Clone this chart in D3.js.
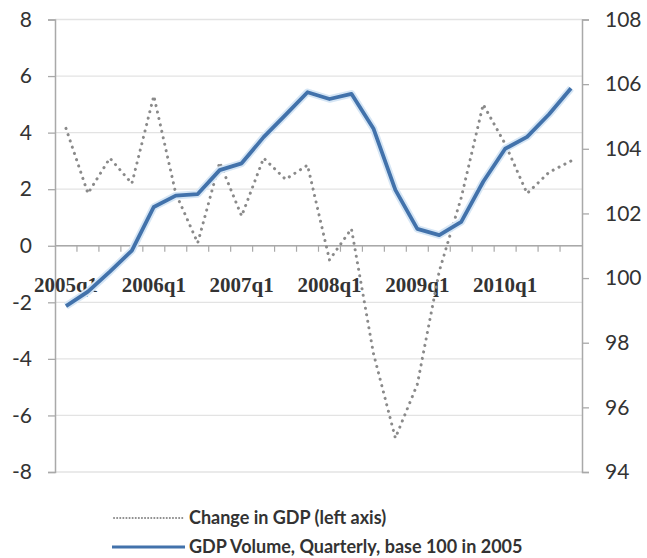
<!DOCTYPE html>
<html>
<head>
<meta charset="utf-8">
<script src="https://cdn.jsdelivr.net/npm/d3@7"></script>
<style>
  html, body { margin: 0; padding: 0; background: #fff; }
  svg { display: block; }
</style>
</head>
<body>
<svg id="chart" width="647" height="558"></svg>
<script>
const quarters = [
  "2005q1","2005q2","2005q3","2005q4",
  "2006q1","2006q2","2006q3","2006q4",
  "2007q1","2007q2","2007q3","2007q4",
  "2008q1","2008q2","2008q3","2008q4",
  "2009q1","2009q2","2009q3","2009q4",
  "2010q1","2010q2","2010q3","2010q4"
];
const changeGDP = [4.15, 1.85, 3.1, 2.2, 5.3, 1.85, 0.1, 2.95, 1.05, 3.1, 2.35, 2.85,
                   -0.5, 0.6, -3.8, -6.8, -4.9, -0.9, 1.7, 5.0, 3.6, 1.85, 2.6, 3.0];
const gdpVolume = [99.13, 99.58, 100.2, 100.85, 102.2, 102.55, 102.6, 103.34, 103.55, 104.36, 105.05, 105.75,
                   105.54, 105.7, 104.63, 102.73, 101.52, 101.33, 101.74, 102.98, 104.0, 104.37, 105.07, 105.87];
const xLabels = ["2005q1","2006q1","2007q1","2008q1","2009q1","2010q1"];
const leftTicks = [-8, -6, -4, -2, 0, 2, 4, 6, 8];
const rightTicks = [94, 96, 98, 100, 102, 104, 106, 108];
const legendLabels = ["Change in GDP (left axis)", "GDP Volume, Quarterly, base 100 in 2005"];

const svg = d3.select("#chart");
const L = 55, R = 582, T = 19.5, B = 472;

const x = d3.scaleBand().domain(quarters).range([L, R]).padding(0);
const xc = q => x(q) + x.bandwidth() / 2;
const yL = d3.scaleLinear().domain([-8, 8]).range([B, T]);
const yR = d3.scaleLinear().domain([94, 108]).range([B, T]);

// gridlines
svg.append("g").selectAll("line").data(leftTicks).join("line")
  .attr("x1", L).attr("x2", R)
  .attr("y1", d => yL(d)).attr("y2", d => yL(d))
  .attr("stroke", "#e3e3e3").attr("stroke-width", 1.3);

// left axis
const axL = svg.append("g").attr("transform", `translate(${L},0)`)
  .call(d3.axisLeft(yL).tickValues(leftTicks).tickSize(7).tickPadding(16).tickFormat(d3.format("d")));
axL.select(".domain").attr("stroke", "#a9a9a9").attr("stroke-width", 1.5);
axL.selectAll(".tick line").attr("stroke", "#a9a9a9").attr("stroke-width", 1.3);
axL.selectAll("text").attr("font-family", "Lato, 'Open Sans', sans-serif").attr("font-size", 21)
  .attr("fill", "#333").text(d => d < 0 ? "-" + Math.abs(d) : d);

// right axis
const axR = svg.append("g").attr("transform", `translate(${R},0)`)
  .call(d3.axisRight(yR).tickValues(rightTicks).tickSize(7).tickPadding(16).tickFormat(d3.format("d")));
axR.select(".domain").attr("stroke", "#a9a9a9").attr("stroke-width", 1.5);
axR.selectAll(".tick line").attr("stroke", "#a9a9a9").attr("stroke-width", 1.3);
axR.selectAll("text").attr("font-family", "Lato, 'Open Sans', sans-serif").attr("font-size", 21).attr("fill", "#333");

// x axis at zero
const gx = svg.append("g").attr("transform", `translate(0,${yL(0)})`);
gx.append("line").attr("x1", L).attr("x2", R).attr("stroke", "#a9a9a9").attr("stroke-width", 1.5);
gx.selectAll("line.tk").data(quarters.slice(1)).join("line").attr("class", "tk")
  .attr("x1", d => x(d)).attr("x2", d => x(d)).attr("y1", 0).attr("y2", 6)
  .attr("stroke", "#a9a9a9").attr("stroke-width", 1.2);
gx.selectAll("text").data(xLabels).join("text")
  .attr("x", d => xc(d)).attr("y", 46)
  .attr("text-anchor", "middle")
  .attr("font-family", "'Liberation Serif', serif").attr("font-weight", "bold")
  .attr("font-size", 21).attr("fill", "#333").text(d => d);

// dotted series (left axis)
const lineL = d3.line().x((d, i) => xc(quarters[i])).y(d => yL(d));
svg.append("path").datum(changeGDP).attr("d", lineL)
  .attr("fill", "none").attr("stroke", "#8a8a8a").attr("stroke-width", 3)
  .attr("stroke-linecap", "round").attr("stroke-dasharray", "0.1 6.5");

// solid series (right axis)
const lineR = d3.line().x((d, i) => xc(quarters[i])).y(d => yR(d));
svg.append("path").datum(gdpVolume).attr("d", lineR)
  .attr("fill", "none").attr("stroke", "#d6e6f5").attr("stroke-width", 7.5).attr("stroke-linejoin", "round");
svg.append("path").datum(gdpVolume).attr("d", lineR)
  .attr("fill", "none").attr("stroke", "#4272ab").attr("stroke-width", 3.8).attr("stroke-linejoin", "round");

// legend
const lg = svg.append("g");
lg.append("line").attr("x1", 114).attr("x2", 185).attr("y1", 518).attr("y2", 518)
  .attr("stroke", "#8a8a8a").attr("stroke-width", 2).attr("stroke-linecap", "round").attr("stroke-dasharray", "0.1 3");
lg.append("line").attr("x1", 112).attr("x2", 185).attr("y1", 547).attr("y2", 547)
  .attr("stroke", "#4272ab").attr("stroke-width", 3);
lg.selectAll("text").data(legendLabels).join("text")
  .attr("x", 189).attr("y", (d, i) => 518 + i * 29).attr("dy", "0.35em")
  .attr("font-family", "Lato, sans-serif").attr("font-weight", "bold")
  .attr("font-size", 18).attr("fill", "#333").text(d => d);
</script>
</body>
</html>
